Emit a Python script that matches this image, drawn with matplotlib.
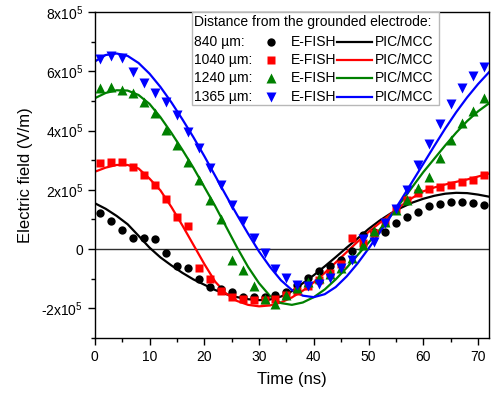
import numpy as np
import matplotlib.pyplot as plt
from matplotlib.ticker import MultipleLocator, FuncFormatter
from matplotlib.patches import Rectangle

plt.rcParams['font.family'] = ['Liberation Sans', 'DejaVu Sans']
plt.rcParams['mathtext.fontset'] = 'custom'
plt.rcParams['mathtext.rm'] = 'Liberation Sans'
plt.rcParams['mathtext.it'] = 'Liberation Sans:italic'

# Time grids (ns)
t_efish = np.arange(1, 72, 2)
t_pic = np.arange(0, 73, 2)

# E-FISH measurements, in units of 1e5 V/m
efish_840 = [1.23, 0.96, 0.64, 0.38, 0.39, 0.33, -0.12, -0.56, -0.65, -1.01,
             -1.27, -1.36, -1.46, -1.60, -1.61, -1.63, -1.55, -1.44, -1.20, -0.97,
             -0.73, -0.58, -0.37, -0.05, 0.47, 0.59, 0.59, 0.89, 1.09, 1.26,
             1.45, 1.52, 1.58, 1.59, 1.56, 1.50]
efish_1040 = [2.92, 2.95, 2.94, 2.78, 2.50, 2.15, 1.68, 1.10, 0.79, -0.62,
              -1.01, -1.40, -1.62, -1.68, -1.70, -1.72, -1.67, -1.55, -1.42, -1.25,
              -1.05, -0.80, -0.50, 0.38, 0.20, 0.55, 0.92, 1.35, 1.65, 1.90,
              2.02, 2.10, 2.18, 2.25, 2.32, 2.50]
efish_1240 = [5.43, 5.46, 5.37, 5.26, 4.98, 4.58, 4.02, 3.51, 2.95, 2.33,
              1.67, 1.02, -0.37, -0.70, -1.25, -1.68, -1.86, -1.55, -1.30, -1.10,
              -0.98, -0.85, -0.62, -0.30, 0.15, 0.60, 0.92, 1.32, 1.65, 2.07,
              2.42, 3.06, 3.68, 4.24, 4.66, 5.10]
efish_1365 = [6.41, 6.52, 6.44, 5.98, 5.62, 5.28, 4.95, 4.53, 3.96, 3.40,
              2.75, 2.16, 1.49, 0.95, 0.39, -0.13, -0.67, -0.99, -1.20, -1.23,
              -1.16, -0.96, -0.62, -0.35, 0.33, 0.25, 0.87, 1.37, 2.00, 2.84,
              3.54, 4.21, 4.90, 5.42, 5.83, 6.16]

# PIC/MCC simulation, in units of 1e5 V/m
pic_840 = [1.55, 1.36, 1.12, 0.84, 0.45, 0.05, -0.28, -0.55, -0.80, -1.02,
           -1.20, -1.38, -1.52, -1.62, -1.69, -1.72, -1.70, -1.60, -1.42, -1.15,
           -0.88, -0.58, -0.27, 0.05, 0.36, 0.68, 0.96, 1.20, 1.40, 1.57,
           1.70, 1.80, 1.87, 1.90, 1.89, 1.84, 1.77]
pic_1040 = [2.61, 2.75, 2.84, 2.84, 2.72, 2.38, 1.98, 1.42, 0.80, 0.15,
            -0.50, -1.10, -1.50, -1.75, -1.88, -1.93, -1.90, -1.80, -1.63, -1.40,
            -1.12, -0.80, -0.45, -0.10, 0.25, 0.58, 0.88, 1.18, 1.47, 1.73,
            1.95, 2.08, 2.18, 2.27, 2.35, 2.45, 2.55]
pic_1240 = [5.09, 5.27, 5.36, 5.35, 5.20, 4.90, 4.45, 3.92, 3.35, 2.75,
            2.10, 1.45, 0.75, 0.05, -0.60, -1.15, -1.58, -1.82, -1.88, -1.80,
            -1.62, -1.36, -1.02, -0.63, -0.20, 0.22, 0.65, 1.12, 1.60, 2.10,
            2.60, 3.05, 3.50, 3.93, 4.32, 4.65, 4.92]
pic_1365 = [6.33, 6.55, 6.60, 6.52, 6.28, 5.92, 5.47, 4.95, 4.38, 3.78,
            3.14, 2.47, 1.80, 1.15, 0.52, -0.08, -0.60, -1.05, -1.38, -1.57,
            -1.62, -1.52, -1.28, -0.92, -0.48, 0.02, 0.55, 1.10, 1.68, 2.28,
            2.88, 3.48, 4.07, 4.62, 5.12, 5.57, 5.97]

distances = ['840 µm:', '1040 µm:', '1240 µm:', '1365 µm:']
efish = [efish_840, efish_1040, efish_1240, efish_1365]
pic = [pic_840, pic_1040, pic_1240, pic_1365]
colors = ['black', '#ff0000', '#008000', '#0000ff']
markers = ['o', 's', '^', 'v']
msizes = [6, 5.5, 6.5, 6.5]

fig = plt.figure(figsize=(4.91, 3.94), dpi=100)
ax = fig.add_axes([0.193, 0.142, 0.803, 0.8275])

# zero line
ax.axhline(0, color='#303030', lw=1.0, zorder=1)

for i in range(4):
    ax.plot(t_pic, np.array(pic[i]) * 1e5, '-', color=colors[i], lw=1.6, zorder=2)
    ax.plot(t_efish, np.array(efish[i]) * 1e5, markers[i], color=colors[i],
            ms=msizes[i], mec='none', zorder=3, linestyle='none')

ax.set_xlim(0, 72)
ax.set_ylim(-3e5, 8e5)
ax.xaxis.set_major_locator(MultipleLocator(10))
ax.xaxis.set_minor_locator(MultipleLocator(5))
ax.yaxis.set_major_locator(MultipleLocator(2e5))
ax.yaxis.set_minor_locator(MultipleLocator(1e5))


def sci(v, pos):
    n = int(round(v / 1e5))
    if n == 0:
        return '0'
    return '{}x10$^5$'.format(n)


ax.yaxis.set_major_formatter(FuncFormatter(sci))
ax.tick_params(which='both', direction='out', top=False, right=False, labelsize=10, width=1.0)
ax.tick_params(which='major', length=5)
ax.tick_params(which='minor', length=3)
for s in ax.spines.values():
    s.set_linewidth(1.0)

ax.set_xlabel('Time (ns)', fontsize=12, labelpad=6)
ax.set_ylabel('Electric field (V/m)', fontsize=12, labelpad=6)

# Origin-style legend box
ax.add_patch(Rectangle((0.2464, 0.7147), 0.6276, 0.2853, transform=ax.transAxes,
                       facecolor='white', edgecolor='#b8b8b8', lw=1.0, zorder=5))
ax.text(0.252, 0.969, 'Distance from the grounded electrode:', transform=ax.transAxes,
        va='center', ha='left', fontsize=10, zorder=6)
row_y = [0.909, 0.853, 0.797, 0.740]
for i in range(4):
    y = row_y[i]
    ax.text(0.252, y, distances[i], transform=ax.transAxes, va='center', fontsize=10, zorder=6)
    ax.plot([0.4469], [y], markers[i], color=colors[i], ms=msizes[i], mec='none',
            transform=ax.transAxes, clip_on=False, zorder=6)
    ax.text(0.4976, y, 'E-FISH', transform=ax.transAxes, va='center', fontsize=10, zorder=6)
    ax.plot([0.6135, 0.7039], [y, y], '-', color=colors[i], lw=1.6,
            transform=ax.transAxes, clip_on=False, zorder=6)
    ax.text(0.7107, y, 'PIC/MCC', transform=ax.transAxes, va='center', fontsize=10, zorder=6)

fig.savefig('out.png', dpi=100)
